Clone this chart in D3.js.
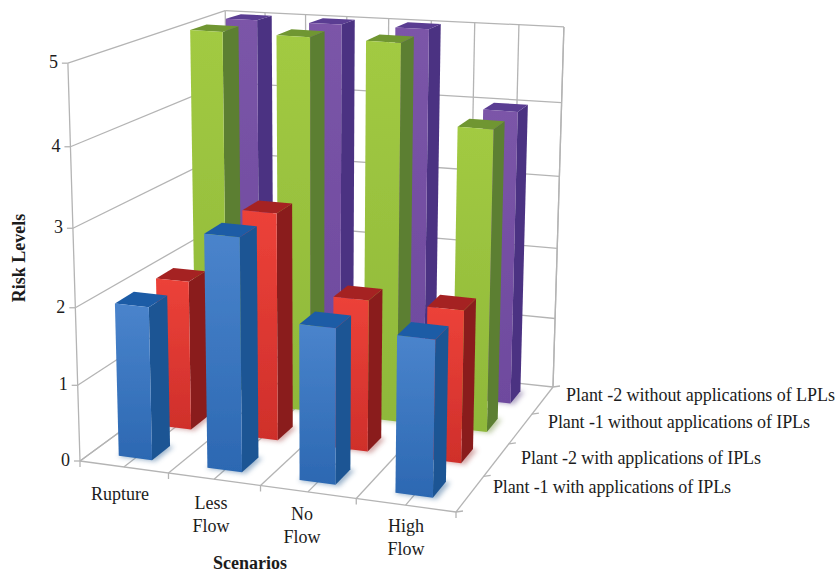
<!DOCTYPE html>
<html>
<head>
<meta charset="utf-8">
<script src="https://cdn.jsdelivr.net/npm/d3@7"></script>
<style>
    body { margin: 0; background: #fff; }
    text { font-family: "Liberation Serif", serif; fill: #1c1c1c; font-size: 18px; }
    .title { font-weight: bold; font-size: 18px; }
</style>
</head>
<body>
<svg id="chart" width="837" height="573"></svg>
<script>
const scenarios = ['Rupture', 'Less Flow', 'No Flow', 'High Flow'];
const plants = [
    'Plant -1 with applications of IPLs',
    'Plant -2 with applications of IPLs',
    'Plant -1 without applications of IPLs',
    'Plant -2 without applications of LPLs'
];
const plant1With = [2, 3, 2, 2];
const plant2With = [2, 3, 2, 2];
const plant1Without = [5, 5, 5, 4];
const plant2Without = [5, 5, 5, 4];
const riskTicks = [0, 1, 2, 3, 4, 5];

const seriesValues = [plant1With, plant2With, plant1Without, plant2Without];
const seriesColors = [
    { top: '#1f5ca6', side: '#1d5594', front: ['#4a84cc', '#2c68b2'], shadow: '#3a6a9a' },
    { top: '#a52324', side: '#8a1f1f', front: ['#ec4239', '#cf2f2b'], shadow: '#a85050' },
    { top: '#6f9630', side: '#5c7f30', front: ['#a2ca42', '#8fb83a'], shadow: '#7f9a50' },
    { top: '#5a3c92', side: '#4b3282', front: ['#7b55a8', '#6e4a9e'], shadow: '#65508a' }
];

// floor corners on screen: front-left, front-right, back-right, back-left
const floorQuad = [[80, 461], [456, 512], [553, 387], [229, 352]];
// where the upright lines meet, and how much taller the box is than its distance to that point
const verticalVanish = [316, 8216];
const cornerRise = [0.0513, 0.0539, 0.046, 0.0434];

function quadMap(q) {
    const [[x0, y0], [x1, y1], [x2, y2], [x3, y3]] = q;
    const dx1 = x1 - x2, dx2 = x3 - x2, sx = x0 - x1 + x2 - x3;
    const dy1 = y1 - y2, dy2 = y3 - y2, sy = y0 - y1 + y2 - y3;
    const den = dx1 * dy2 - dx2 * dy1;
    const g = (sx * dy2 - dx2 * sy) / den;
    const h = (dx1 * sy - sx * dy1) / den;
    const a = x1 - x0 + g * x1, b = x3 - x0 + h * x3;
    const d = y1 - y0 + g * y1, e = y3 - y0 + h * y3;
    return (u, v) => {
        const w = g * u + h * v + 1;
        return [(a * u + b * v + x0) / w, (d * u + e * v + y0) / w];
    };
}

const floorAt = quadMap(floorQuad);

const catBand = d3.scaleBand().domain(scenarios).range([0, 1]).paddingInner(0.62).paddingOuter(0.31);
const serBand = d3.scaleBand().domain(plants).range([0, 1]).paddingInner(0.55).paddingOuter(0.275);
const valueScale = d3.scaleLinear().domain([0, 5]).range([0, 1]);

// heights get a bit stretched towards the top of the picture
function project(u, v, value) {
    const t = valueScale(value);
    const h = t / (1.064 - 0.064 * t);
    const a = floorAt(u, v);
    const rise = (1 - v) * ((1 - u) * cornerRise[0] + u * cornerRise[1]) + v * ((1 - u) * cornerRise[3] + u * cornerRise[2]);
    const k = rise * h;
    return [a[0] + (a[0] - verticalVanish[0]) * k, a[1] + (a[1] - verticalVanish[1]) * k];
}

const svg = d3.select('#chart');
const defs = svg.append('defs');
defs.append('filter').attr('id', 'soft').attr('x', '-30%').attr('y', '-30%').attr('width', '160%').attr('height', '160%')
    .append('feGaussianBlur').attr('stdDeviation', 2.5);
defs.append('filter').attr('id', 'edge').attr('x', '-5%').attr('y', '-5%').attr('width', '110%').attr('height', '110%')
    .append('feGaussianBlur').attr('stdDeviation', 0.45);
seriesColors.forEach((c, i) => {
    const grad = defs.append('linearGradient').attr('id', `front${i}`).attr('x1', 0).attr('y1', 0).attr('x2', 0).attr('y2', 1);
    grad.append('stop').attr('offset', 0).attr('stop-color', c.front[0]);
    grad.append('stop').attr('offset', 1).attr('stop-color', c.front[1]);
});

const gridColor = '#b4b4b4';
const grid = svg.append('g').attr('fill', 'none').attr('stroke', gridColor).attr('stroke-width', 1.3);
function seg(p, q) {
    grid.append('line').attr('x1', p[0]).attr('y1', p[1]).attr('x2', q[0]).attr('y2', q[1]);
}

// left wall and back wall
riskTicks.forEach(t => {
    seg(project(0, 0, t), project(0, 1, t));
    seg(project(0, 1, t), project(1, 1, t));
    const p = project(0, 0, t);
    seg(p, [p[0] - 6, p[1]]);
});
seg(project(0, 0, 0), project(0, 0, 5));
seg(project(1, 1, 0), project(1, 1, 5));

// half category lines on back wall and floor
d3.range(0, 9).forEach(i => {
    const u = i / 8;
    seg(project(u, 1, 0), project(u, 1, 5));
    seg(project(u, 0, 0), project(u, 1, 0));
    if (i % 2 === 0) {
        const p = project(u, 0, 0);
        seg(p, [p[0], p[1] + 6]);
    }
});
seg(project(0, 0, 0), project(1, 0, 0));
d3.range(0, 5).forEach(i => {
    const p = project(1, i / 4, 0);
    seg(p, [p[0] + 7, p[1] - 1]);
});

const poly = pts => pts.map(p => p.join(',')).join(' ');
const bars = svg.append('g');

// paint from the back series forward
d3.range(plants.length - 1, -1, -1).forEach(s => {
    const c = seriesColors[s];
    const v0 = serBand(plants[s]), v1 = v0 + serBand.bandwidth();
    scenarios.forEach((name, i) => {
        const u0 = catBand(name), u1 = u0 + catBand.bandwidth();
        const val = seriesValues[s][i];
        const g = bars.append('g');
        const e = 0.006;
        g.append('polygon')
            .attr('points', poly([project(u0, v0 - e, 0), project(u1 + e * 2, v0 - e, 0), project(u1 + e * 2, v1, 0), project(u0, v1, 0)]))
            .attr('fill', c.shadow).attr('opacity', 0.5).attr('filter', 'url(#soft)');
        const box = g.append('g').attr('filter', 'url(#edge)');
        box.append('polygon')
            .attr('points', poly([project(u1, v0, 0), project(u1, v1, 0), project(u1, v1, val), project(u1, v0, val)]))
            .attr('fill', c.side);
        box.append('polygon')
            .attr('points', poly([project(u0, v0, val), project(u1, v0, val), project(u1, v1, val), project(u0, v1, val)]))
            .attr('fill', c.top);
        box.append('polygon')
            .attr('points', poly([project(u0, v0, 0), project(u1, v0, 0), project(u1, v0, val), project(u0, v0, val)]))
            .attr('fill', `url(#front${s})`);
    });
});

// text
const labels = svg.append('g');
riskTicks.forEach(t => {
    const p = project(0, 0, t);
    labels.append('text').attr('x', p[0] - 10).attr('y', p[1] + 5).attr('text-anchor', 'end').text(t);
});

const catLabelX = [120, 211, 302, 406];
const catLabelY = [500, 509, 520, 532];
scenarios.forEach((name, i) => {
    const t = labels.append('text').attr('text-anchor', 'middle');
    name.split(' ').forEach((w, k) => {
        t.append('tspan').attr('x', catLabelX[i]).attr('y', catLabelY[i] + k * 23).text(w);
    });
});

const plantX = [493, 521, 548, 566];
const plantY = [493, 464, 428, 401];
const plantWidth = [238, 240, 262, 269];
plants.forEach((name, i) => {
    labels.append('text').attr('x', plantX[i]).attr('y', plantY[i])
        .attr('textLength', plantWidth[i]).attr('lengthAdjust', 'spacing').text(name);
});

labels.append('text').attr('class', 'title').attr('x', 250).attr('y', 569).attr('text-anchor', 'middle').text('Scenarios');
labels.append('text').attr('class', 'title').attr('text-anchor', 'middle')
    .attr('transform', 'translate(25,258) rotate(-90)').text('Risk Levels');
</script>
</body>
</html>
